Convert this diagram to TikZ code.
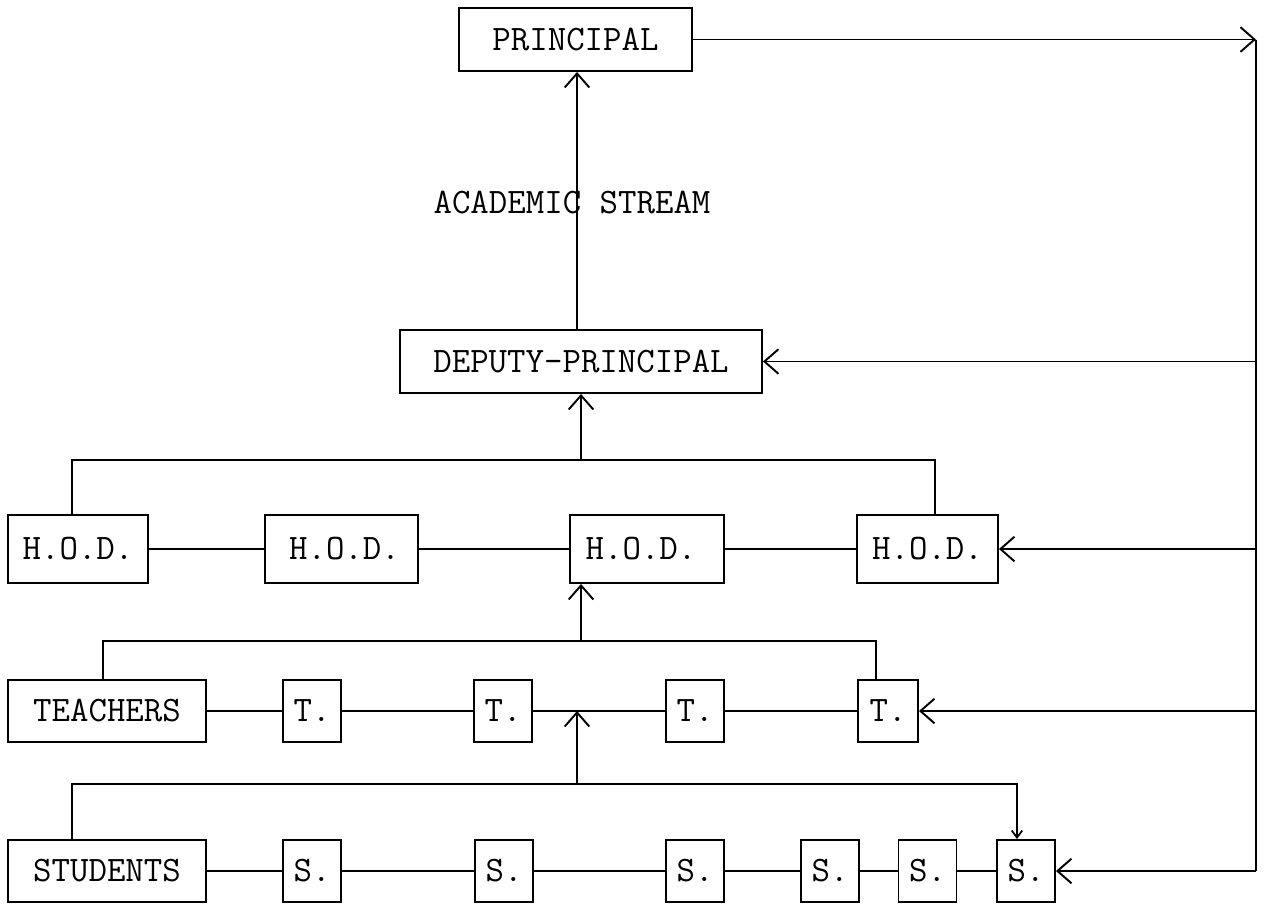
\documentclass[tikz,border=0pt]{standalone}
\usepackage{tikz}
\usetikzlibrary{arrows.meta, calc}

\tikzset{
    box/.style={draw, rectangle, line width=1.1pt, minimum height=1.26cm, inner sep=2pt,
        font=\fontsize{20.4}{22}\ttfamily},
    small/.style={box, minimum width=1.16cm, minimum height=1.24cm},
    link/.style={line width=1.1pt},
    feed/.style={line width=1.1pt, -{Straight Barb[length=8pt,width=14pt,line width=1.1pt]}}
}

\begin{document}
\begin{tikzpicture}[x=0.02cm, y=-0.02cm]
    \useasboundingbox (0,0) rectangle (1271,906);

    \node[box, minimum width=4.66cm] (principal) at (575.5,39.5) {PRINCIPAL};
    \node[box, minimum width=7.24cm] (deputy) at (581,361.5) {DEPUTY-PRINCIPAL};
    \node[font=\fontsize{20.4}{22}\ttfamily] (stream) at (572,203) {ACADEMIC STREAM};

    \node[box, minimum width=2.8cm, minimum height=1.36cm] (hod1) at (78,549) {H.O.D.};
    \node[box, minimum width=3.06cm, minimum height=1.36cm] (hod2) at (341.5,549) {\,H.O.D.};
    \node[box, minimum width=3.08cm, minimum height=1.36cm] (hod3) at (647,549) {H.O.D.\,\,};
    \node[box, minimum width=2.82cm, minimum height=1.36cm] (hod4) at (927.5,549) {H.O.D.};

    \node[box, minimum width=3.96cm, minimum height=1.24cm] (teachers) at (107,711) {TEACHERS};
    \node[small] (t1) at (312,711) {T.};
    \node[small] (t2) at (503,711) {T.};
    \node[small] (t3) at (695,711) {T.};
    \node[small, minimum width=1.2cm] (t4) at (888,711) {T.};

    \node[box, minimum width=3.96cm, minimum height=1.24cm] (students) at (107,871) {STUDENTS};
    \node[small] (s1) at (312,871) {S.};
    \node[small] (s2) at (504,871) {S.};
    \node[small] (s3) at (695,871) {S.};
    \node[small] (s4) at (830,871) {S.};
    \node[small] (s5) at (927.5,871) {S.};
    \node[small] (s6) at (1026,871) {S.};

    % right hand return line
    \coordinate (rtop) at (1256,39.5);
    \coordinate (rbot) at (1256,871);
    \draw[feed] (principal.east) -- (rtop);
    \draw[link] (rtop) -- (rbot);
    \draw[feed] (rtop |- deputy.east) -- (deputy.east);
    \draw[feed] (rtop |- hod4.east) -- (hod4.east);
    \draw[feed] (rtop |- t4.east) -- (t4.east);
    \draw[feed] (rbot) -- (s6.east);

    % academic stream
    \draw[feed] (577,0 |- deputy.north) -- (577,0 |- principal.south);

    % H.O.D. level
    \coordinate (hbus) at (581,460);
    \draw[link] (hod1.north -| 72,0) |- (hbus) -| (hod4.north -| 935,0);
    \draw[feed] (hbus) -- (deputy.south |- hbus) -- (deputy.south);
    \foreach \a/\b in {hod1/hod2, hod2/hod3, hod3/hod4}
        \draw[link] (\a.east) -- (\b.west);

    % teachers level
    \coordinate (tbus) at (581,641);
    \draw[link] (teachers.north -| 103,0) |- (tbus) -| (t4.north -| 876,0);
    \draw[feed] (tbus) -- (tbus |- hod3.south);
    \foreach \a/\b in {teachers/t1, t1/t2, t2/t3, t3/t4}
        \draw[link] (\a.east) -- (\b.west);

    % students level
    \coordinate (sbus) at (577,784);
    \draw[link] (students.north -| 72,0) |- (sbus);
    \draw[link, -{Straight Barb[length=4pt,width=6pt,line width=1pt]}] (sbus) -| (s6.north -| 1017,0);
    \draw[feed] (sbus) -- (sbus |- t2.east);
    \foreach \a/\b in {students/s1, s1/s2, s2/s3, s3/s4, s4/s5, s5/s6}
        \draw[link] (\a.east) -- (\b.west);
\end{tikzpicture}
\end{document}
